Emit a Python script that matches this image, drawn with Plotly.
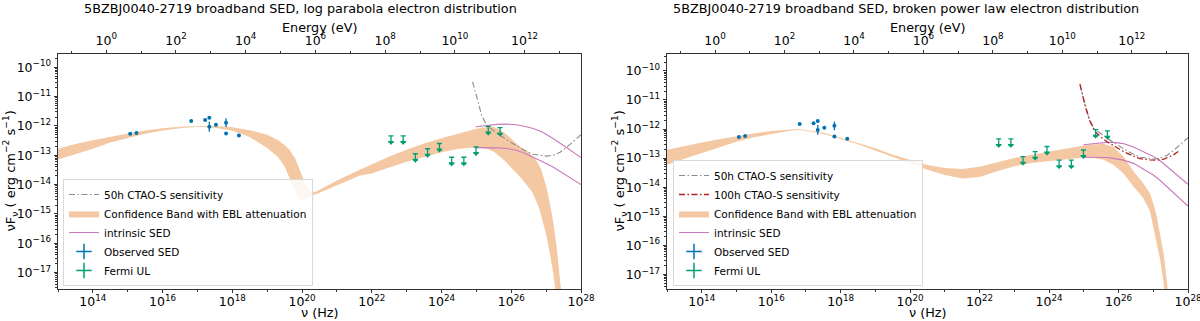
import math
import plotly.graph_objects as go

# ---------------- data (log10 values) ----------------
# Observed SED (log10 nu [Hz], log10 nuFnu [erg cm-2 s-1], error in dex)
obs_nu = [15.07, 15.25, 16.82, 17.22, 17.34, 17.34, 17.53, 17.82, 17.82, 18.19]
obs_flux = [-12.27, -12.24, -11.83, -11.80, -11.72, -12.03, -11.96, -11.89, -12.26, -12.33]
obs_err = [0.0, 0.0, 0.0, 0.0, 0.0, 0.17, 0.0, 0.15, 0.0, 0.0]

# Fermi upper limits
ul_nu = [22.55, 22.90, 23.25, 23.60, 23.94, 24.29, 24.64, 24.99, 25.34, 25.68]
ul_flux = [-12.34, -12.34, -12.95, -12.78, -12.60, -13.07, -13.07, -12.72, -12.02, -12.06]
ul_len = 0.22

# CTAO-S sensitivities
cta50_nu = [24.89, 25.0, 25.15, 25.29, 25.5, 25.68, 25.9, 26.15, 26.4, 26.63, 26.85, 27.01, 27.2, 27.4, 27.6, 27.8, 28.0]
cta50_flux = [-10.5, -11.0, -11.63, -11.98, -12.18, -12.32, -12.5, -12.68, -12.85, -12.97, -13.02, -13.03, -13.0, -12.9, -12.72, -12.5, -12.3]
cta100_nu = [24.89, 25.04, 25.18, 25.32, 25.5, 25.66, 25.9, 26.14, 26.4, 26.62, 26.91, 27.1, 27.29, 27.45, 27.58, 27.72]
cta100_flux = [-10.45, -11.22, -11.74, -12.08, -12.28, -12.43, -12.6, -12.77, -12.92, -13.02, -13.06, -13.07, -13.04, -12.97, -12.89, -12.77]

# Log parabola model: confidence band with EBL
lp_up_nu = [13.0, 13.5, 14.0, 14.5, 15.0, 15.5, 16.0, 16.5, 17.0, 17.5, 18.0, 18.5, 19.0, 19.3, 19.5, 19.65, 19.8, 19.9, 20.0, 20.1, 20.2, 20.3, 20.37, 20.5, 21.0, 21.5, 22.0, 22.5, 23.0, 23.5, 24.0, 24.5, 25.0, 25.3, 25.5, 25.7, 25.9, 26.1, 26.3, 26.5, 26.7, 26.85, 27.0, 27.1, 27.2, 27.3, 27.4, 27.48]
lp_up_flux = [-12.78, -12.62, -12.49, -12.37, -12.26, -12.16, -12.08, -12.03, -12.0, -12.0, -12.05, -12.15, -12.3, -12.48, -12.65, -12.83, -13.1, -13.4, -13.7, -14.0, -14.17, -14.24, -14.26, -14.18, -13.86, -13.58, -13.3, -13.04, -12.81, -12.6, -12.42, -12.25, -12.1, -12.04, -12.03, -12.15, -12.33, -12.55, -12.75, -12.9, -13.15, -13.45, -14.05, -14.6, -15.25, -16.1, -17.2, -18.2]
lp_lo_nu = [13.0, 13.5, 14.0, 14.5, 15.0, 15.5, 16.0, 16.5, 17.0, 17.5, 18.0, 18.5, 19.0, 19.3, 19.5, 19.7, 19.85, 19.99, 20.1, 20.2, 20.3, 20.42, 21.0, 21.66, 22.0, 22.5, 23.0, 23.5, 24.0, 24.5, 25.0, 25.3, 25.5, 25.8, 26.0, 26.3, 26.6, 26.8, 27.0, 27.1, 27.2, 27.3, 27.35]
lp_lo_flux = [-13.15, -12.96, -12.78, -12.57, -12.41, -12.27, -12.16, -12.08, -12.03, -12.06, -12.17, -12.38, -12.75, -13.05, -13.38, -13.95, -14.37, -14.54, -14.5, -14.42, -14.36, -14.32, -14.03, -13.69, -13.62, -13.42, -13.22, -13.05, -12.9, -12.78, -12.73, -12.78, -12.88, -13.17, -13.4, -13.8, -14.25, -14.8, -15.7, -16.3, -17.0, -17.8, -18.3]
# Log parabola intrinsic SED (upper / lower)
lp_int_nu = [24.98, 25.3, 25.6, 25.87, 26.15, 26.4, 26.63, 26.9, 27.2, 27.5, 27.7, 28.0]
lp_int_up = [-12.03, -11.98, -11.95, -11.94, -11.96, -12.02, -12.09, -12.22, -12.43, -12.67, -12.83, -13.08]
lp_int_lo = [-12.74, -12.74, -12.75, -12.77, -12.83, -12.94, -13.06, -13.22, -13.4, -13.63, -13.78, -14.0]

# Broken power law model: confidence band with EBL
bpl_up_nu = [13.0, 13.5, 14.0, 14.5, 15.0, 15.5, 16.0, 16.5, 16.75, 17.0, 17.5, 18.0, 18.5, 19.0, 19.5, 20.0, 20.5, 21.0, 21.5, 22.0, 22.5, 23.0, 23.5, 24.0, 24.5, 25.0, 25.3, 25.56, 25.85, 26.14, 26.43, 26.7, 26.9, 27.0, 27.1, 27.2, 27.3, 27.4, 27.45]
bpl_up_flux = [-12.71, -12.58, -12.46, -12.35, -12.24, -12.15, -12.07, -12.01, -12.0, -12.03, -12.13, -12.3, -12.47, -12.66, -12.88, -13.07, -13.24, -13.34, -13.37, -13.3, -13.15, -13.0, -12.88, -12.77, -12.66, -12.57, -12.53, -12.51, -12.62, -12.94, -13.45, -13.85, -14.2, -14.55, -15.0, -15.6, -16.3, -17.3, -18.0]
bpl_lo_nu = [13.0, 13.5, 14.0, 14.5, 15.0, 15.5, 16.0, 16.5, 16.75, 17.0, 17.5, 18.0, 18.5, 19.0, 19.5, 20.0, 20.5, 21.0, 21.5, 22.0, 22.5, 23.0, 23.5, 24.0, 24.5, 25.0, 25.3, 25.56, 25.85, 26.14, 26.43, 26.7, 26.9, 27.0, 27.1, 27.2, 27.3, 27.35]
bpl_lo_flux = [-13.23, -13.02, -12.83, -12.63, -12.44, -12.28, -12.17, -12.07, -12.03, -12.06, -12.17, -12.34, -12.52, -12.72, -12.96, -13.18, -13.4, -13.58, -13.7, -13.65, -13.45, -13.28, -13.17, -13.1, -13.04, -12.98, -13.0, -13.06, -13.23, -13.52, -13.98, -14.35, -14.8, -15.3, -15.9, -16.5, -17.3, -17.9]
# Broken power law intrinsic SED
bpl_int_nu = [24.99, 25.3, 25.66, 25.85, 26.14, 26.43, 26.7, 27.0, 27.2, 27.39, 27.6, 27.8, 28.0]
bpl_int_up = [-12.54, -12.5, -12.46, -12.46, -12.5, -12.62, -12.76, -12.94, -13.09, -13.29, -13.5, -13.7, -13.9]
bpl_int_lo = [-12.97, -12.97, -12.98, -13.01, -13.07, -13.18, -13.36, -13.58, -13.77, -13.98, -14.2, -14.42, -14.65]

titles = ["5BZBJ0040-2719 broadband SED, log parabola electron distribution",
          "5BZBJ0040-2719 broadband SED, broken power law electron distribution"]
nu_ticks = [14, 16, 18, 20, 22, 24, 26, 28]
e_ticks = [0, 2, 4, 6, 8, 10, 12]
y_ticks = [-10, -11, -12, -13, -14, -15, -16, -17]
H_EV = 4.135667696e-15  # Planck constant in eV s

# ---------------- styles ----------------
BAND = "#F4C8A3"
PINK = "#CC78BC"
BLUE = "#0173B2"
GREEN = "#029E73"
GRAY = "#8c8c8c"
RED = "#B22222"
FONT = "DejaVu Sans"
DASHDOT = "6px,2.5px,1.5px,2.5px"


def p(a):
    return [10.0 ** v for v in a]


def sup(n):
    return "10<sup>" + str(n).replace("-", "\u2212") + "</sup>"


LOGH = math.log10(H_EV)

fig = go.Figure()

panels = [
    dict(xa="x", ya="y", lg="legend",
         up_nu=lp_up_nu, up=lp_up_flux, lo_nu=lp_lo_nu, lo=lp_lo_flux,
         int_nu=lp_int_nu, int_up=lp_int_up, int_lo=lp_int_lo, c100=False),
    dict(xa="x2", ya="y2", lg="legend2",
         up_nu=bpl_up_nu, up=bpl_up_flux, lo_nu=bpl_lo_nu, lo=bpl_lo_flux,
         int_nu=bpl_int_nu, int_up=bpl_int_up, int_lo=bpl_int_lo, c100=True),
]

for pn in panels:
    xa, ya, lg = pn["xa"], pn["ya"], pn["lg"]
    # band
    fig.add_trace(go.Scatter(
        x=p(pn["up_nu"]) + p(pn["lo_nu"][::-1]),
        y=p(pn["up"]) + p(pn["lo"][::-1]),
        fill="toself", fillcolor=BAND, mode="lines", line=dict(width=0, color=BAND),
        name="Confidence Band with EBL attenuation", legend=lg, legendrank=3,
        xaxis=xa, yaxis=ya, hoverinfo="skip"))
    # intrinsic SED
    fig.add_trace(go.Scatter(x=p(pn["int_nu"]), y=p(pn["int_up"]), mode="lines",
                             line=dict(color=PINK, width=1.1), name="intrinsic SED",
                             legend=lg, legendrank=4, xaxis=xa, yaxis=ya))
    fig.add_trace(go.Scatter(x=p(pn["int_nu"]), y=p(pn["int_lo"]), mode="lines",
                             line=dict(color=PINK, width=1.1), showlegend=False,
                             xaxis=xa, yaxis=ya))
    # sensitivities
    fig.add_trace(go.Scatter(x=p(cta50_nu), y=p(cta50_flux), mode="lines",
                             line=dict(color=GRAY, width=1.1, dash=DASHDOT),
                             name="50h CTAO-S sensitivity", legend=lg, legendrank=1,
                             xaxis=xa, yaxis=ya))
    if pn["c100"]:
        fig.add_trace(go.Scatter(x=p(cta100_nu), y=p(cta100_flux), mode="lines",
                                 line=dict(color=RED, width=1.3, dash=DASHDOT),
                                 name="100h CTAO-S sensitivity", legend=lg, legendrank=2,
                                 xaxis=xa, yaxis=ya))
    # observed SED
    oy = p(obs_flux)
    eplus = [10.0 ** (f + e) - 10.0 ** f for f, e in zip(obs_flux, obs_err)]
    eminus = [10.0 ** f - 10.0 ** (f - e) for f, e in zip(obs_flux, obs_err)]
    fig.add_trace(go.Scatter(x=p(obs_nu), y=oy, mode="markers",
                             marker=dict(color=BLUE, size=4),
                             error_y=dict(type="data", symmetric=False, array=eplus,
                                          arrayminus=eminus, color=BLUE, thickness=1.3, width=0),
                             showlegend=False, xaxis=xa, yaxis=ya))
    # Fermi upper limits
    tips = [f - ul_len for f in ul_flux]
    ulen = [10.0 ** f - 10.0 ** t for f, t in zip(ul_flux, tips)]
    fig.add_trace(go.Scatter(x=p(ul_nu), y=p(tips), mode="markers",
                             marker=dict(color=GREEN, size=5.5, symbol="triangle-down"),
                             error_y=dict(type="data", symmetric=False, array=ulen,
                                          arrayminus=[0] * len(ulen), color=GREEN,
                                          thickness=1.3, width=2.5),
                             showlegend=False, xaxis=xa, yaxis=ya))
    # legend-only entries for error-bar style handles
    fig.add_trace(go.Scatter(x=[None], y=[None], mode="markers", name="Observed SED",
                             marker=dict(symbol="cross-thin", size=11, color=BLUE,
                                         line=dict(color=BLUE, width=1.5)),
                             legend=lg, legendrank=5, xaxis=xa, yaxis=ya))
    fig.add_trace(go.Scatter(x=[None], y=[None], mode="markers", name="Fermi UL",
                             marker=dict(symbol="cross-thin", size=11, color=GREEN,
                                         line=dict(color=GREEN, width=1.5)),
                             legend=lg, legendrank=6, xaxis=xa, yaxis=ya))

# invisible traces to activate top energy axes
for xa, ya in (("x3", "y"), ("x4", "y2")):
    fig.add_trace(go.Scatter(x=[10.0 ** (13 + LOGH), 10.0 ** (28 + LOGH)], y=[1e-12, 1e-12],
                             mode="markers", marker=dict(opacity=0), showlegend=False,
                             hoverinfo="skip", xaxis=xa, yaxis=ya))

W, H = 1200, 321
frame_top, frame_bot = 54, 289
dom_y = [1 - frame_bot / H, 1 - frame_top / H]
dom_l = [58 / W, 581 / W]
dom_r = [667 / W, 1188 / W]

tickfont = dict(family=FONT, size=12.5, color="black")
axline = dict(showline=True, linecolor="#333", linewidth=0.9, ticks="outside",
              ticklen=3.5, tickwidth=0.9, tickcolor="#333", showgrid=False,
              zeroline=False, tickfont=tickfont, ticklabeloverflow="allow")


def xaxis_bottom(dom, anchor):
    return dict(type="log", domain=dom, anchor=anchor, range=[13, 28], mirror=True,
                tickmode="array", tickvals=[10.0 ** t for t in nu_ticks],
                ticktext=[sup(t) for t in nu_ticks], ticklabelstandoff=-2,
                minor=dict(tickvals=[10.0 ** t for t in range(13, 28, 2)], ticks="outside",
                           ticklen=2, tickcolor="#333", showgrid=False),
                automargin=False, **axline)


def xaxis_top(over, anchor):
    return dict(type="log", overlaying=over, anchor=anchor, side="top",
                range=[13 + LOGH, 28 + LOGH], tickmode="array",
                tickvals=[10.0 ** t for t in e_ticks], ticktext=[sup(t) for t in e_ticks],
                minor=dict(tickvals=[10.0 ** t for t in range(-1, 14, 2)], ticks="outside",
                           ticklen=2, tickcolor="#333", showgrid=False),
                automargin=False, **axline)


def yaxis(anchor, rng):
    return dict(type="log", domain=dom_y, anchor=anchor, range=rng, mirror=True,
                tickmode="array", tickvals=[10.0 ** t for t in y_ticks],
                ticktext=[sup(t) for t in y_ticks],
                minor=dict(dtick="D1", ticks="outside", ticklen=2, tickcolor="#333",
                           showgrid=False),
                automargin=False, **axline)


legend_style = dict(font=dict(family=FONT, size=10.5, color="black"),
                    bgcolor="rgba(255,255,255,0.85)", bordercolor="#d9d9d9", borderwidth=1,
                    xanchor="left", yanchor="bottom", itemwidth=30, tracegroupgap=0)

fig.update_layout(
    width=W, height=H, margin=dict(l=0, r=0, t=0, b=0),
    paper_bgcolor="white", plot_bgcolor="white",
    font=dict(family=FONT, size=12, color="black"),
    xaxis=xaxis_bottom(dom_l, "y"),
    xaxis2=xaxis_bottom(dom_r, "y2"),
    xaxis3=xaxis_top("x", "y"),
    xaxis4=xaxis_top("x2", "y2"),
    yaxis=yaxis("x", [-17.56, -9.55]),
    yaxis2=yaxis("x2", [-17.5, -9.42]),
    legend=dict(x=63 / W, y=1 - 286 / H, **legend_style),
    legend2=dict(x=673 / W, y=1 - 286 / H, **legend_style),
)

ann = []
for cx, tx, title in zip([319.5, 927.5], [300, 906], titles):
    ann.append(dict(x=tx / W, y=1 - 8.5 / H, text=title, showarrow=False,
                    xanchor="center", yanchor="middle",
                    xref="paper", yref="paper", font=dict(family=FONT, size=12.8)))
    ann.append(dict(x=cx / W, y=1 - 27 / H, text="Energy (eV)", showarrow=False,
                    xanchor="center", yanchor="middle",
                    xref="paper", yref="paper", font=dict(family=FONT, size=12.8)))
    ann.append(dict(x=cx / W, y=1 - 312 / H, text="\u03bd (Hz)", showarrow=False,
                    xanchor="center", yanchor="middle",
                    xref="paper", yref="paper", font=dict(family=FONT, size=12.8)))
for cx in (10, 619):
    ann.append(dict(x=cx / W, y=1 - 171.5 / H, textangle=-90, showarrow=False,
                    xanchor="center", yanchor="middle",
                    text="\u03bdF<sub>\u03bd</sub> ( erg cm<sup>\u22122</sup> s<sup>\u22121</sup>)",
                    xref="paper", yref="paper", font=dict(family=FONT, size=13)))
fig.update_layout(annotations=ann)

fig.write_html("out.html", config={"displayModeBar": False},
               post_script="document.body.style.margin='0';document.body.style.padding='0';"
                           "document.documentElement.style.overflow='hidden';")
